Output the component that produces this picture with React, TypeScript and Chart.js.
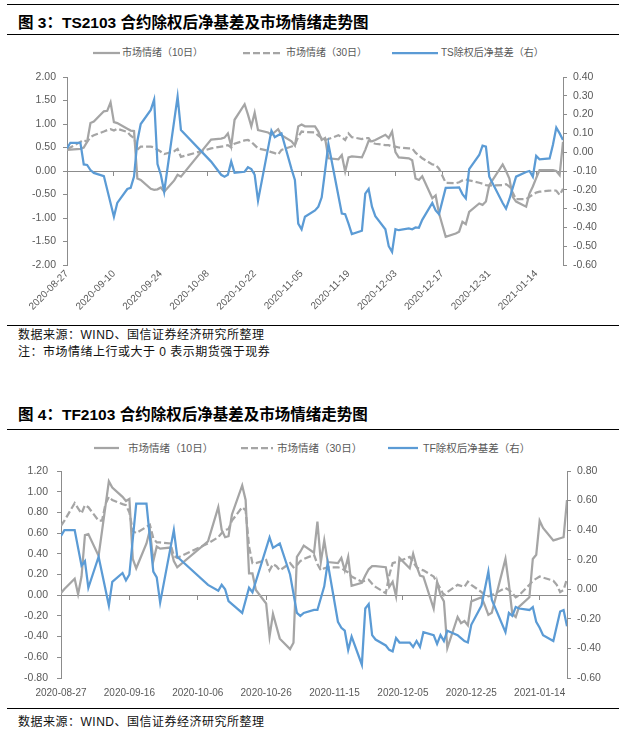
import React, { useEffect, useRef } from 'react';
import { Chart, registerables } from 'chart.js';

Chart.register(...registerables);
Chart.defaults.font.family = '"Liberation Sans", Arial, sans-serif';

// ---------------- data ----------------
// Series dates are "MM-DD": Aug–Dec are 2020, Jan is 2021.
type Pair = [string, number];

const AXIS_FIRST = '2020-08-27';
const AXIS_LAST = '2021-01-22';

const TS_X_TICKS = ['2020-08-27', '2020-09-10', '2020-09-24', '2020-10-08', '2020-10-22', '2020-11-05', '2020-11-19', '2020-12-03', '2020-12-17', '2020-12-31', '2021-01-14'];
const TS_LEFT_TICKS = [-2, -1.5, -1, -0.5, 0, 0.5, 1, 1.5, 2];
const TS_RIGHT_TICKS = [-0.6, -0.5, -0.4, -0.3, -0.2, -0.1, 0, 0.1, 0.2, 0.3, 0.4];

const TF_X_TICKS = ['2020-08-27', '2020-09-16', '2020-10-06', '2020-10-26', '2020-11-15', '2020-12-05', '2020-12-25', '2021-01-14'];
const TF_LEFT_TICKS = [-0.8, -0.6, -0.4, -0.2, 0, 0.2, 0.4, 0.6, 0.8, 1.0, 1.2];
const TF_RIGHT_TICKS = [-0.6, -0.4, -0.2, 0, 0.2, 0.4, 0.6, 0.8];

const TS_LABELS: [string, string, string] = ['市场情绪（10日）', '市场情绪（30日）', 'TS除权后净基差（右）'];
const TF_LABELS: [string, string, string] = ['市场情绪（10日）', '市场情绪（30日）', 'TF除权后净基差（右）'];

const TS_MOOD10: Pair[] = [
  ['08-27', 0.45], ['08-31', 0.47], ['09-01', 0.50], ['09-02', 0.62], ['09-03', 1.02], ['09-04', 1.05],
  ['09-07', 1.27], ['09-08', 1.28], ['09-09', 1.46], ['09-10', 1.04], ['09-11', 1.02], ['09-14', 0.90],
  ['09-15', 0.86], ['09-16', 0.85], ['09-17', -0.16], ['09-18', -0.19], ['09-21', -0.38], ['09-22', -0.40],
  ['09-23', -0.39], ['09-24', -0.35], ['09-25', -0.44], ['09-28', -0.20], ['09-29', -0.08], ['09-30', -0.12],
  ['10-09', 0.67], ['10-12', 0.69], ['10-13', 0.71], ['10-14', 0.80], ['10-15', 0.53], ['10-16', 1.09],
  ['10-19', 1.42], ['10-20', 1.20], ['10-21', 0.95], ['10-22', 1.24], ['10-23', 0.87], ['10-26', 0.82],
  ['10-27', 0.77], ['10-28', 0.83], ['10-29', 0.89], ['10-30', 0.76], ['11-02', 0.63], ['11-03', 0.54],
  ['11-04', 0.95], ['11-05', 0.99], ['11-06', 0.95], ['11-09', 0.95], ['11-10', 0.84], ['11-11', 0.66],
  ['11-12', 0.70], ['11-13', 0.27], ['11-16', 0.25], ['11-17', 0.34], ['11-18', -0.01], ['11-19', 0.29],
  ['11-20', 0.31], ['11-23', 0.29], ['11-24', 0.45], ['11-25', 0.64], ['11-26', 0.63], ['11-27', 0.66],
  ['11-30', 0.77], ['12-01', 0.70], ['12-02', 0.84], ['12-03', 0.40], ['12-04', 0.29], ['12-07', 0.27],
  ['12-08', 0.23], ['12-09', -0.16], ['12-10', -0.19], ['12-11', -0.11], ['12-14', -0.58], ['12-15', -0.52],
  ['12-16', -0.90], ['12-17', -1.15], ['12-18', -1.40], ['12-21', -1.33], ['12-22', -1.29], ['12-23', -1.08],
  ['12-24', -1.13], ['12-25', -0.87], ['12-28', -0.69], ['12-29', -0.72], ['12-30', -0.65], ['12-31', -0.30],
  ['01-04', 0.14], ['01-05', 0.00], ['01-06', -0.16], ['01-07', -0.55], ['01-08', -0.65], ['01-11', -0.76],
  ['01-12', -0.48], ['01-13', -0.33], ['01-14', -0.15], ['01-15', 0.02], ['01-18', 0.02], ['01-19', 0.02],
  ['01-20', 0.00], ['01-21', -0.09], ['01-22', 0.62],
];

const TS_MOOD30: Pair[] = [
  ['08-27', 0.46], ['08-28', 0.50], ['08-31', 0.62], ['09-01', 0.66], ['09-02', 0.62], ['09-03', 0.72],
  ['09-04', 0.76], ['09-07', 0.84], ['09-08', 0.87], ['09-09', 0.89], ['09-10', 0.86], ['09-11', 0.90],
  ['09-14', 0.83], ['09-15', 0.75], ['09-16', 0.70], ['09-17', 0.45], ['09-18', 0.52], ['09-21', 0.52],
  ['09-22', 0.50], ['09-24', 0.41], ['09-25', 0.36], ['09-28', 0.42], ['09-29', 0.47], ['09-30', 0.30],
  ['10-09', 0.48], ['10-12', 0.52], ['10-13', 0.53], ['10-14', 0.55], ['10-15', 0.50], ['10-16', 0.58],
  ['10-19', 0.65], ['10-20', 0.66], ['10-21', 0.62], ['10-22', 0.55], ['10-23', 0.48], ['10-26', 0.43],
  ['10-27', 0.40], ['10-28', 0.38], ['10-29', 0.35], ['10-30', 0.45], ['11-02', 0.52], ['11-03', 0.55],
  ['11-04', 0.73], ['11-05', 0.84], ['11-06', 0.83], ['11-09', 0.82], ['11-10', 0.75], ['11-11', 0.70],
  ['11-12', 0.66], ['11-13', 0.68], ['11-16', 0.76], ['11-17', 0.72], ['11-18', 0.66], ['11-19', 0.80],
  ['11-20', 0.72], ['11-23', 0.68], ['11-24', 0.70], ['11-25', 0.70], ['11-26', 0.60], ['11-27', 0.58],
  ['11-30', 0.55], ['12-01', 0.55], ['12-02', 0.52], ['12-03', 0.52], ['12-04', 0.50], ['12-07', 0.48],
  ['12-08', 0.48], ['12-09', 0.39], ['12-10', 0.33], ['12-11', 0.27], ['12-14', 0.14], ['12-15', 0.13],
  ['12-16', 0.05], ['12-17', -0.10], ['12-18', -0.25], ['12-21', -0.26], ['12-22', -0.24], ['12-23', -0.20],
  ['12-24', -0.18], ['12-25', -0.20], ['12-28', -0.25], ['12-29', -0.27], ['12-30', -0.30], ['12-31', -0.31],
  ['01-04', -0.30], ['01-05', -0.28], ['01-06', -0.33], ['01-07', -0.46], ['01-08', -0.60], ['01-11', -0.60],
  ['01-12', -0.55], ['01-13', -0.50], ['01-14', -0.46], ['01-15', -0.44], ['01-18', -0.42], ['01-19', -0.41],
  ['01-20', -0.42], ['01-21', -0.51], ['01-22', -0.38],
];

const TS_BASIS: Pair[] = [
  ['08-27', 0.02], ['08-28', 0.05], ['08-31', 0.05], ['09-01', -0.065], ['09-02', -0.068], ['09-03', -0.095],
  ['09-04', -0.11], ['09-07', -0.127], ['09-10', -0.343], ['09-11', -0.27], ['09-14', -0.196], ['09-15', -0.19],
  ['09-16', -0.13], ['09-17', 0.06], ['09-18', 0.15], ['09-21', 0.225], ['09-22', 0.28], ['09-23', -0.063],
  ['09-24', -0.12], ['09-25', -0.21], ['09-29', 0.296], ['09-30', 0.118], ['10-09', -0.05], ['10-12', -0.12],
  ['10-13', -0.13], ['10-14', -0.12], ['10-15', -0.05], ['10-16', -0.11], ['10-19', -0.104], ['10-20', -0.08],
  ['10-21', -0.09], ['10-22', -0.12], ['10-23', -0.258], ['10-27', 0.115], ['10-28', 0.08], ['10-29', 0.09],
  ['10-30', 0.10], ['11-02', -0.09], ['11-03', -0.148], ['11-04', -0.38], ['11-05', -0.41], ['11-06', -0.343],
  ['11-09', -0.31], ['11-10', -0.29], ['11-11', -0.24], ['11-12', -0.10], ['11-13', 0.044], ['11-17', -0.326],
  ['11-18', -0.33], ['11-19', -0.38], ['11-20', -0.436], ['11-23', -0.418], ['11-24', -0.22], ['11-25', -0.196],
  ['11-26', -0.29], ['11-27', -0.34], ['11-30', -0.41], ['12-01', -0.50], ['12-02', -0.53], ['12-03', -0.41],
  ['12-04', -0.415], ['12-07', -0.405], ['12-08', -0.41], ['12-09', -0.40], ['12-10', -0.402], ['12-11', -0.36],
  ['12-14', -0.27], ['12-15', -0.31], ['12-16', -0.33], ['12-18', -0.19], ['12-21', -0.188], ['12-22', -0.187],
  ['12-23', -0.223], ['12-24', -0.246], ['12-25', -0.09], ['12-28', -0.015], ['12-29', 0.035], ['12-30', 0.03],
  ['12-31', -0.13], ['01-04', -0.27], ['01-05', -0.30], ['01-06', -0.25], ['01-07', -0.19], ['01-08', -0.13],
  ['01-11', -0.105], ['01-12', -0.10], ['01-13', -0.13], ['01-14', -0.02], ['01-15', -0.038], ['01-18', -0.033],
  ['01-19', 0.04], ['01-20', 0.131], ['01-21', 0.10], ['01-22', 0.065],
];

const TF_MOOD10: Pair[] = [
  ['08-27', 0.02], ['08-28', 0.06], ['08-31', 0.16], ['09-01', 0.01], ['09-02', 0.18], ['09-03', 0.58],
  ['09-04', 0.59], ['09-07', 0.38], ['09-10', 1.10], ['09-11', 1.04], ['09-14', 0.95], ['09-15', 0.91],
  ['09-16', 0.93], ['09-17', 0.35], ['09-18', 0.26], ['09-21', 0.50], ['09-22', 0.63], ['09-23', 0.33],
  ['09-24', 0.47], ['09-25', 0.45], ['09-28', 0.46], ['09-29', 0.33], ['09-30', 0.27], ['10-09', 0.52],
  ['10-12', 0.85], ['10-13', 0.63], ['10-14', 0.56], ['10-15', 0.57], ['10-16', 0.78], ['10-19', 1.06],
  ['10-20', 0.92], ['10-21', 0.21], ['10-22', 0.21], ['10-23', 0.05], ['10-26', -0.08], ['10-27', -0.40],
  ['10-28', -0.18], ['10-29', -0.30], ['10-30', -0.42], ['11-02', -0.52], ['11-03', -0.46], ['11-04', 0.37],
  ['11-05', 0.42], ['11-06', 0.48], ['11-09', 0.41], ['11-10', 0.71], ['11-11', 0.32], ['11-12', 0.53],
  ['11-13', 0.32], ['11-16', 0.31], ['11-17', 0.36], ['11-18', 0.24], ['11-19', 0.37], ['11-20', 0.09],
  ['11-23', 0.12], ['11-24', 0.19], ['11-25', 0.25], ['11-26', 0.28], ['11-27', 0.28], ['11-30', 0.27],
  ['12-01', 0.08], ['12-02', 0.13], ['12-03', -0.01], ['12-04', 0.36], ['12-07', 0.26], ['12-08', 0.40],
  ['12-09', 0.28], ['12-10', 0.19], ['12-11', 0.18], ['12-14', -0.13], ['12-15', 0.13], ['12-16', 0.00],
  ['12-17', -0.06], ['12-18', -0.51], ['12-21', -0.21], ['12-22', -0.27], ['12-23', -0.25], ['12-24', -0.29],
  ['12-25', -0.06], ['12-28', -0.02], ['12-29', -0.10], ['12-30', -0.19], ['12-31', -0.17], ['01-04', 0.35],
  ['01-05', 0.11], ['01-06', -0.18], ['01-07', -0.21], ['01-08', -0.11], ['01-11', -0.02], ['01-12', 0.35],
  ['01-13', 0.39], ['01-14', 0.72], ['01-15', 0.65], ['01-18', 0.53], ['01-19', 0.54], ['01-20', 0.55],
  ['01-21', 0.56], ['01-22', 0.92],
];

const TF_MOOD30: Pair[] = [
  ['08-27', 0.67], ['08-28', 0.72], ['08-31', 0.89], ['09-01', 0.84], ['09-02', 0.79], ['09-03', 0.87],
  ['09-04', 0.85], ['09-07', 0.72], ['09-08', 0.72], ['09-09', 0.88], ['09-10', 0.95], ['09-11', 0.92],
  ['09-14', 0.88], ['09-15', 0.87], ['09-16', 0.80], ['09-17', 0.62], ['09-18', 0.60], ['09-21', 0.66],
  ['09-22', 0.68], ['09-23', 0.55], ['09-24', 0.51], ['09-25', 0.51], ['09-28', 0.50], ['09-29', 0.38],
  ['09-30', 0.36], ['10-09', 0.50], ['10-12', 0.56], ['10-13', 0.60], ['10-14', 0.63], ['10-15', 0.64],
  ['10-16', 0.72], ['10-19', 0.85], ['10-20', 0.82], ['10-21', 0.47], ['10-22', 0.31], ['10-23', 0.31],
  ['10-26', 0.34], ['10-27', 0.24], ['10-28', 0.30], ['10-29', 0.28], ['10-30', 0.24], ['11-02', 0.31],
  ['11-03', 0.27], ['11-04', 0.29], ['11-05', 0.33], ['11-06', 0.35], ['11-09', 0.39], ['11-10', 0.30],
  ['11-11', 0.24], ['11-12', 0.26], ['11-13', 0.27], ['11-16', 0.27], ['11-17', 0.26], ['11-18', 0.24],
  ['11-19', 0.22], ['11-20', 0.18], ['11-23', 0.13], ['11-24', 0.14], ['11-25', 0.15], ['11-26', 0.11],
  ['11-27', 0.08], ['11-30', 0.02], ['12-01', 0.19], ['12-02', 0.31], ['12-03', 0.32], ['12-04', 0.33],
  ['12-07', 0.37], ['12-08', 0.32], ['12-09', 0.27], ['12-10', 0.25], ['12-11', 0.24], ['12-14', 0.18],
  ['12-15', 0.12], ['12-16', 0.06], ['12-17', 0.00], ['12-18', 0.03], ['12-21', 0.10], ['12-22', 0.09],
  ['12-23', 0.08], ['12-24', 0.13], ['12-25', 0.10], ['12-28', 0.03], ['12-29', 0.00], ['12-30', -0.01],
  ['12-31', 0.00], ['01-04', 0.07], ['01-05', 0.05], ['01-06', 0.02], ['01-07', -0.02], ['01-08', 0.00],
  ['01-11', 0.10], ['01-12', 0.14], ['01-13', 0.16], ['01-14', 0.18], ['01-15', 0.17], ['01-18', 0.14],
  ['01-19', 0.10], ['01-20', 0.03], ['01-21', 0.05], ['01-22', 0.16],
];

const TF_BASIS: Pair[] = [
  ['08-27', 0.36], ['08-28', 0.40], ['08-31', 0.40], ['09-01', 0.28], ['09-02', 0.16], ['09-03', 0.19],
  ['09-04', 0.01], ['09-07', 0.22], ['09-10', -0.11], ['09-11', 0.05], ['09-14', 0.11], ['09-15', 0.06],
  ['09-16', 0.10], ['09-18', 0.58], ['09-21', 0.58], ['09-23', 0.12], ['09-24', 0.08], ['09-25', -0.09],
  ['09-29', 0.40], ['09-30', 0.22], ['10-09', 0.03], ['10-12', -0.01], ['10-13', 0.03], ['10-14', 0.00],
  ['10-15', -0.08], ['10-19', -0.16], ['10-21', 0.01], ['10-22', -0.02], ['10-27', 0.35], ['10-28', 0.28],
  ['10-30', 0.31], ['11-02', 0.10], ['11-04', -0.16], ['11-05', -0.18], ['11-06', -0.16], ['11-09', -0.14],
  ['11-10', -0.14], ['11-12', 0.02], ['11-13', 0.18], ['11-16', -0.22], ['11-17', -0.26], ['11-18', -0.28],
  ['11-19', -0.41], ['11-20', -0.32], ['11-23', -0.51], ['11-24', -0.13], ['11-25', -0.10], ['11-26', -0.31],
  ['11-27', -0.34], ['11-30', -0.38], ['12-01', -0.41], ['12-02', -0.42], ['12-03', -0.33], ['12-04', -0.36],
  ['12-07', -0.36], ['12-08', -0.39], ['12-09', -0.35], ['12-10', -0.39], ['12-11', -0.29], ['12-14', -0.31],
  ['12-15', -0.37], ['12-16', -0.31], ['12-17', -0.35], ['12-18', -0.28], ['12-21', -0.31], ['12-22', -0.33],
  ['12-23', -0.35], ['12-24', -0.36], ['12-25', -0.24], ['12-28', -0.11], ['12-30', 0.12], ['12-31', -0.07],
  ['01-04', -0.29], ['01-05', -0.16], ['01-06', -0.18], ['01-07', -0.12], ['01-08', -0.13], ['01-11', -0.14],
  ['01-12', -0.12], ['01-13', -0.22], ['01-14', -0.26], ['01-15', -0.31], ['01-18', -0.35], ['01-19', -0.25],
  ['01-20', -0.15], ['01-21', -0.14], ['01-22', -0.25],
];

// ---------------- helpers ----------------
const BASE_UTC = Date.UTC(2020, 7, 27);
function dayOf(s: string): number {
  const p = s.split('-').map(Number);
  const [y, m, d] = p.length === 3 ? p : [p[0] >= 8 ? 2020 : 2021, p[0], p[1]];
  return Math.round((Date.UTC(y, m - 1, d) - BASE_UTC) / 86400000);
}
const toPoints = (rows: Pair[]) => rows.map(([d, v]) => ({ x: dayOf(d), y: v }));

const GRAY = '#A5A5A5';
const BLUE = '#5B9BD5';
const AXIS = '#8C8C8C';
const TICK_TEXT = '#595959';
const DASH = [7, 3];

interface ChartSpec {
  labels: [string, string, string];
  mood10: Pair[];
  mood30: Pair[];
  basis: Pair[];
  xTicks: string[];
  leftTicks: number[];
  rightTicks: number[];
  rotation: number;
  xTickPad: number;
  leftWidth: number;
  rightWidth: number;
  xHeight: number;
  padTop: number;
  leftPad: number;
  rightPad: number;
}

function yScale(ticks: number[], position: string, width: number, pad: number) {
  return {
    type: 'linear',
    position,
    min: ticks[0],
    max: ticks[ticks.length - 1],
    afterBuildTicks: (a: any) => { a.ticks = ticks.map((value) => ({ value })); },
    afterFit: (a: any) => { a.width = width; },
    grid: { drawOnChartArea: false, drawTicks: true, tickLength: 4, color: AXIS, lineWidth: 1 },
    border: { display: true, color: AXIS, width: 1 },
    ticks: { padding: pad, color: TICK_TEXT, font: { size: 10.5 }, callback: (v: any) => Number(v).toFixed(2) },
  };
}

function makeConfig(s: ChartSpec): any {
  const xMin = dayOf(AXIS_FIRST);
  const xMax = dayOf(AXIS_LAST);
  const xTickValues = s.xTicks.map(dayOf);
  const setXTicks = (a: any) => { a.ticks = xTickValues.map((value) => ({ value })); };
  const line = { pointRadius: 0, pointHoverRadius: 0, borderWidth: 2.25, tension: 0, fill: false, xAxisID: 'x' };
  return {
    type: 'line',
    data: {
      datasets: [
        { ...line, label: s.labels[0], data: toPoints(s.mood10), borderColor: GRAY, yAxisID: 'y', order: 2 },
        { ...line, label: s.labels[1], data: toPoints(s.mood30), borderColor: GRAY, borderDash: DASH, yAxisID: 'y', order: 1 },
        { ...line, label: s.labels[2], data: toPoints(s.basis), borderColor: BLUE, yAxisID: 'y1', order: 0 },
      ],
    },
    options: {
      responsive: true,
      maintainAspectRatio: false,
      animation: false,
      events: [],
      layout: { padding: { top: s.padTop, left: 0, right: 0, bottom: 0 } },
      plugins: { legend: { display: false }, tooltip: { enabled: false }, title: { display: false } },
      scales: {
        x: {
          type: 'linear',
          position: 'bottom',
          min: xMin,
          max: xMax,
          afterBuildTicks: setXTicks,
          afterFit: (a: any) => { a.height = s.xHeight; },
          grid: { display: false, drawTicks: false },
          border: { display: false },
          ticks: {
            autoSkip: false,
            minRotation: s.rotation,
            maxRotation: s.rotation,
            padding: s.xTickPad,
            color: TICK_TEXT,
            font: { size: 10 },
            callback: (v: any) => {
              const i = xTickValues.indexOf(Math.round(Number(v)));
              return i >= 0 ? s.xTicks[i] : '';
            },
          },
        },
        xZero: {
          type: 'linear',
          position: { y: 0 },
          min: xMin,
          max: xMax,
          afterBuildTicks: setXTicks,
          grid: { display: true, drawOnChartArea: false, drawTicks: true, tickLength: 4, color: AXIS, lineWidth: 1 },
          border: { display: true, color: AXIS, width: 1 },
          ticks: { display: false },
        },
        y: yScale(s.leftTicks, 'left', s.leftWidth, s.leftPad),
        y1: yScale(s.rightTicks, 'right', s.rightWidth, s.rightPad),
      },
    },
  };
}

// canvas 1 spans page y 63..322 (plot 77..265); canvas 2 spans 455..705 (plot 471..678)
const TS_SPEC: ChartSpec = {
  labels: TS_LABELS, mood10: TS_MOOD10, mood30: TS_MOOD30, basis: TS_BASIS,
  xTicks: TS_X_TICKS, leftTicks: TS_LEFT_TICKS, rightTicks: TS_RIGHT_TICKS,
  rotation: 45, xTickPad: 3, leftWidth: 67, rightWidth: 57, xHeight: 57, padTop: 14, leftPad: 7, rightPad: 6,
};

const TF_SPEC: ChartSpec = {
  labels: TF_LABELS, mood10: TF_MOOD10, mood30: TF_MOOD30, basis: TF_BASIS,
  xTicks: TF_X_TICKS, leftTicks: TF_LEFT_TICKS, rightTicks: TF_RIGHT_TICKS,
  rotation: 0, xTickPad: 9, leftWidth: 61, rightWidth: 53, xHeight: 27, padTop: 16, leftPad: 9, rightPad: 6,
};

// ---------------- components ----------------
const TEXT_FONT = '"Liberation Sans", "Noto Sans CJK SC", sans-serif';

function ChartBox({ spec, top, height }: { spec: ChartSpec; top: number; height: number }) {
  const ref = useRef<HTMLCanvasElement>(null);
  useEffect(() => {
    const chart = new Chart(ref.current as HTMLCanvasElement, makeConfig(spec));
    return () => chart.destroy();
  }, [spec]);
  return (
    <div style={{ position: 'absolute', left: 0, top, width: 620, height }}>
      <canvas ref={ref} />
    </div>
  );
}

function Rule({ top }: { top: number }) {
  return <div style={{ position: 'absolute', left: 7, top, width: 612, height: 1, background: '#000' }} />;
}

function Title({ top, text }: { top: number; text: string }) {
  return (
    <div style={{ position: 'absolute', left: 18, top, fontFamily: TEXT_FONT, fontWeight: 700, fontSize: 15.5, lineHeight: '18px', color: '#000', whiteSpace: 'nowrap' }}>
      {text}
    </div>
  );
}

function Note({ top, text }: { top: number; text: string }) {
  return (
    <div style={{ position: 'absolute', left: 18, top, fontFamily: TEXT_FONT, fontSize: 12, letterSpacing: 0.5, lineHeight: '14px', color: '#111', whiteSpace: 'nowrap' }}>
      {text}
    </div>
  );
}

interface LegendItem { x1: number; x2: number; tx: number; color: string; dashed: boolean; text: string }

function Legend({ cy, fontSize, items }: { cy: number; fontSize: number; items: LegendItem[] }) {
  return (
    <>
      {items.map((it, i) => (
        <React.Fragment key={i}>
          <svg style={{ position: 'absolute', left: it.x1, top: cy - 2 }} width={it.x2 - it.x1} height={4}>
            <line x1={0} y1={2} x2={it.x2 - it.x1} y2={2} stroke={it.color} strokeWidth={2.25} strokeDasharray={it.dashed ? DASH.join(' ') : undefined} />
          </svg>
          <div style={{ position: 'absolute', left: it.tx, top: cy - 7, lineHeight: '14px', fontFamily: TEXT_FONT, fontSize, color: TICK_TEXT, whiteSpace: 'nowrap' }}>
            {it.text}
          </div>
        </React.Fragment>
      ))}
    </>
  );
}

export default function App() {
  return (
    <div style={{ position: 'absolute', left: 0, top: 0, width: 620, height: 735, background: '#fff', overflow: 'hidden' }}>
      <Rule top={4} />
      <Title top={14} text="图 3：TS2103 合约除权后净基差及市场情绪走势图" />
      <Rule top={34} />
      <Legend
        cy={53}
        fontSize={10}
        items={[
          { x1: 93, x2: 120, tx: 122, color: GRAY, dashed: false, text: TS_LABELS[0] },
          { x1: 243, x2: 283, tx: 286, color: GRAY, dashed: true, text: TS_LABELS[1] },
          { x1: 392, x2: 438, tx: 441, color: BLUE, dashed: false, text: TS_LABELS[2] },
        ]}
      />
      <ChartBox spec={TS_SPEC} top={63} height={259} />
      <Rule top={325} />
      <Note top={328} text="数据来源：WIND、国信证券经济研究所整理" />
      <Note top={345} text="注：市场情绪上行或大于 0 表示期货强于现券" />

      <Title top={406} text="图 4：TF2103 合约除权后净基差及市场情绪走势图" />
      <Rule top={429} />
      <Legend
        cy={448}
        fontSize={10.5}
        items={[
          { x1: 94, x2: 119, tx: 128, color: GRAY, dashed: false, text: TF_LABELS[0] },
          { x1: 241, x2: 273, tx: 277, color: GRAY, dashed: true, text: TF_LABELS[1] },
          { x1: 388, x2: 418, tx: 423, color: BLUE, dashed: false, text: TF_LABELS[2] },
        ]}
      />
      <ChartBox spec={TF_SPEC} top={455} height={250} />
      <Rule top={708} />
      <Note top={715} text="数据来源：WIND、国信证券经济研究所整理" />
    </div>
  );
}
